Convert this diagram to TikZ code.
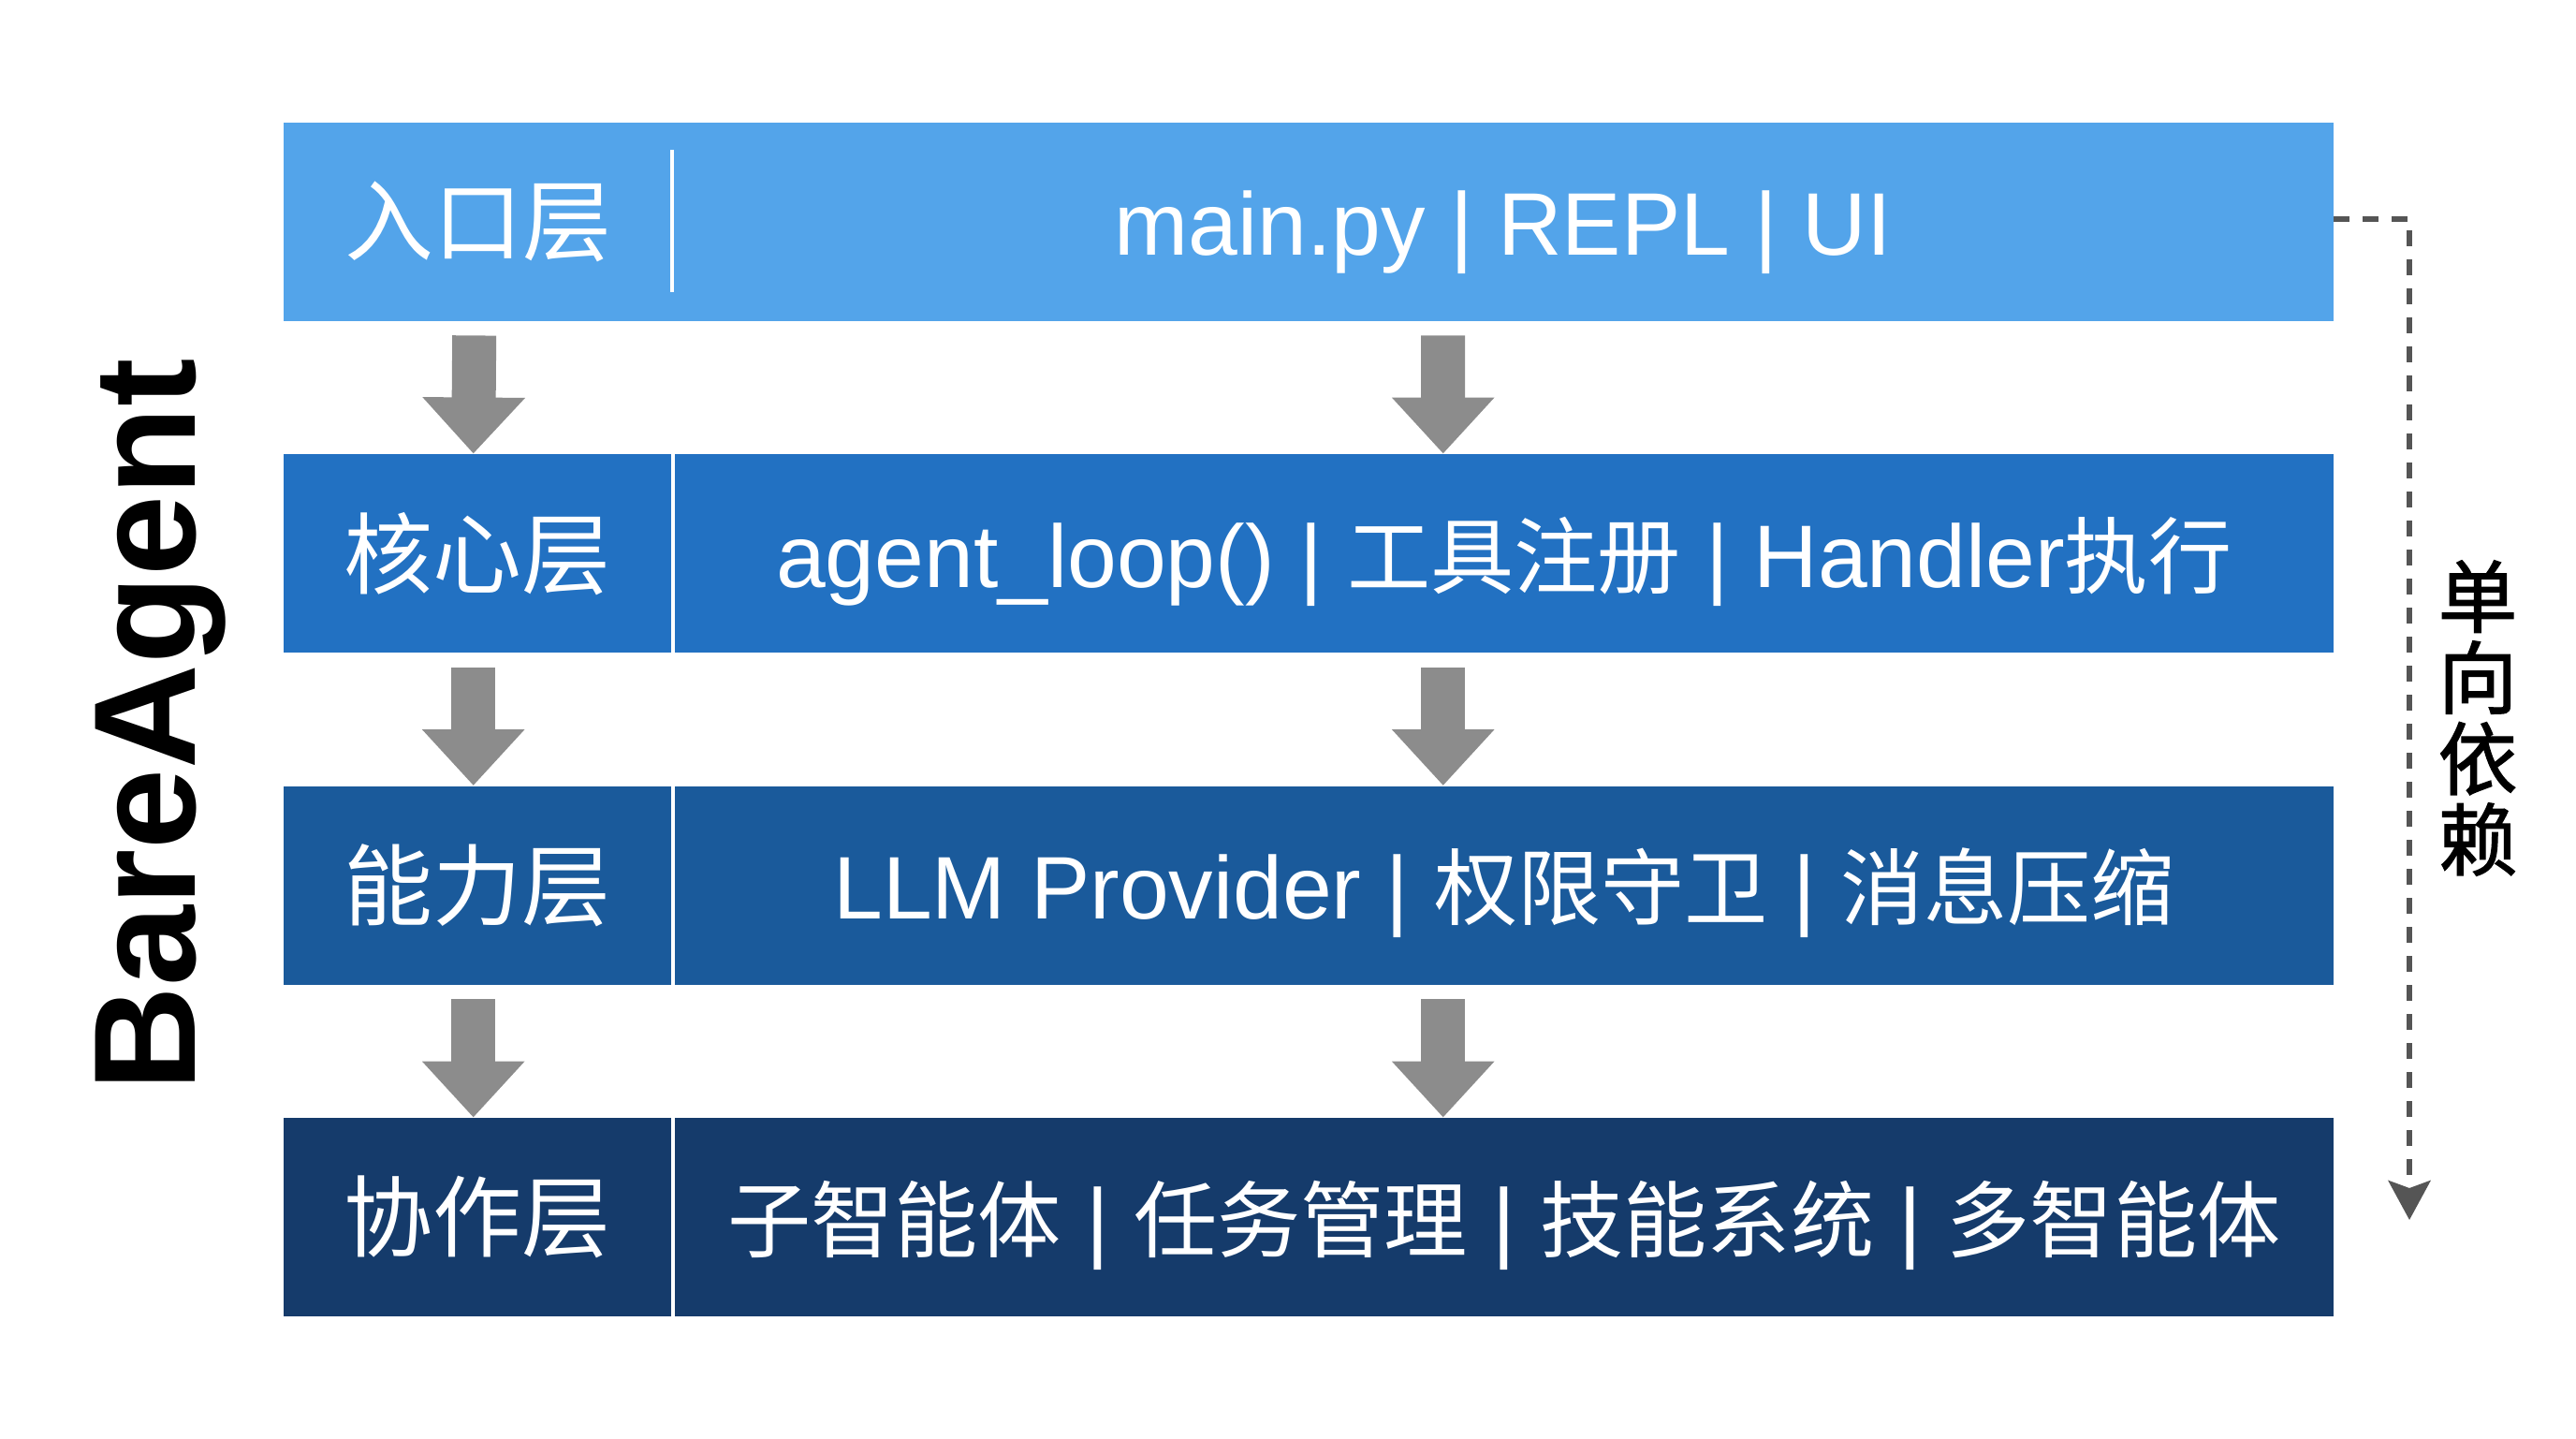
\documentclass[tikz,border=0pt]{standalone}
\usepackage{fontspec}
\usepackage{xcolor}
\usepackage{tikz}
\usetikzlibrary{arrows.meta, positioning, calc}
\setmainfont{Liberation Sans}
\newfontfamily\cjk{Noto Sans CJK SC}
\newfontfamily\cjkc[Scale=0.94]{Noto Sans CJK SC}
\newfontfamily\cjkbold[FakeBold=1.6]{Noto Sans CJK SC}
\definecolor{layA}{HTML}{53A4EA}
\definecolor{layB}{HTML}{2271C2}
\definecolor{layC}{HTML}{1A5A9B}
\definecolor{layD}{HTML}{153B6B}
\definecolor{arrowgray}{HTML}{8C8C8C}
\definecolor{dashgray}{HTML}{555555}
\newcommand{\sepbar}{\ |\ }
\tikzset{
  layer/.style={rectangle, anchor=north west, inner sep=0pt, minimum height=2.12cm,
    text=white, font=\fontsize{27}{32}\selectfont},
  namebox/.style={layer, minimum width=4.14cm},
  contentbox/.style={layer, minimum width=17.72cm, text height=0.9cm, text depth=0.18cm},
  downarrow/.style={arrowgray, line width=0.47cm,
    -{Triangle[width=1.06cm, length=0.6cm]}},
  deparrow/.style={dashgray, line width=0.06cm, dash pattern=on 0.17cm off 0.14cm,
    -{Stealth[width=0.45cm, length=0.42cm, inset=0.08cm]}}
}

\begin{document}
\begin{tikzpicture}[>=Stealth]
  \useasboundingbox[fill=white] (0,0) rectangle (27.52,-15.36);

  % Ebenen
  \node[namebox, fill=layA, minimum width=4.16cm] (n1) at (3.02,-1.30) {\cjk 入口层};
  \node[contentbox, fill=layA, minimum width=17.74cm] (c1) at (7.18,-1.30)
    {main.py\sepbar REPL\sepbar UI};
  \draw[white, line width=0.04cm] (7.18,-1.60) -- (7.18,-3.12);

  \node[namebox, fill=layB] (n2) at (3.02,-4.845) {\cjk 核心层};
  \node[contentbox, fill=layB] (c2) at (7.20,-4.845)
    {agent\_loop()\sepbar{\cjkc 工具注册}\sepbar Handler{\cjkc 执行}};

  \node[namebox, fill=layC] (n3) at (3.02,-8.39) {\cjk 能力层};
  \node[contentbox, fill=layC] (c3) at (7.20,-8.39)
    {LLM Provider\sepbar{\cjkc 权限守卫}\sepbar{\cjkc 消息压缩}};

  \node[namebox, fill=layD] (n4) at (3.02,-11.935) {\cjk 协作层};
  \node[contentbox, fill=layD] (c4) at (7.20,-11.935)
    {{\cjkc 子智能体}\sepbar{\cjkc 任务管理}\sepbar{\cjkc 技能系统}\sepbar{\cjkc 多智能体}};

  % Pfeile zwischen den Ebenen
  \draw[downarrow] ([xshift=-0.04cm, yshift=-0.15cm]n1.south) -- ([xshift=-0.04cm]n2.north);
  \draw[downarrow] ([xshift=-0.04cm, yshift=-0.15cm]n2.south) -- ([xshift=-0.04cm]n3.north);
  \draw[downarrow] ([xshift=-0.04cm, yshift=-0.15cm]n3.south) -- ([xshift=-0.04cm]n4.north);
  \draw[downarrow] ([xshift=-0.64cm, yshift=-0.15cm]c1.south) -- ([xshift=-0.65cm]c2.north);
  \draw[downarrow] ([xshift=-0.65cm, yshift=-0.15cm]c2.south) -- ([xshift=-0.65cm]c3.north);
  \draw[downarrow] ([xshift=-0.65cm, yshift=-0.15cm]c3.south) -- ([xshift=-0.65cm]c4.north);

  % Abhängigkeit
  \coordinate (depend) at (25.74,-13.03);
  \draw[deparrow] ([yshift=0.03cm]c1.east) -| (depend);
  \node[align=center, font=\fontsize{24}{24.6}\selectfont\cjkbold] (deplabel) at (26.47,-7.67)
    {单\\向\\依\\赖};

  % Titel
  \node[rotate=90, anchor=base, font=\fontsize{44}{50}\selectfont\bfseries] (title)
    at (2.08,-7.74) {BareAgent};
\end{tikzpicture}
\end{document}
